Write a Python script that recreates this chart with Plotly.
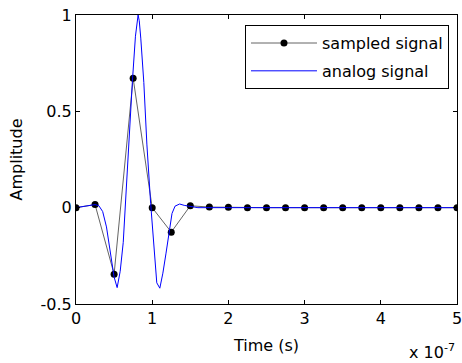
import plotly.graph_objects as go

# Data (time in units of 1e-7 s, as labelled on the axis)
sampled_t = [0, 0.25, 0.5, 0.75, 1.0, 1.25, 1.5, 1.75, 2.0, 2.25, 2.5, 2.75,
             3.0, 3.25, 3.5, 3.75, 4.0, 4.25, 4.5, 4.75, 5.0]
sampled_v = [0, 0.016, -0.345, 0.672, 0, -0.127, 0.01, 0.003, 0.002, 0, 0, 0,
             0, 0, 0, 0, 0, 0, 0, 0, 0]

analog_t = [0, 0.1, 0.2, 0.25, 0.3, 0.35, 0.4, 0.45, 0.5, 0.54, 0.58, 0.62,
            0.66, 0.70, 0.74, 0.78, 0.80, 0.815, 0.83, 0.85, 0.89, 0.93, 0.98,
            1.02, 1.06, 1.10, 1.14, 1.18, 1.23, 1.26, 1.30, 1.36, 1.42, 1.50,
            1.60, 2.0, 3.0, 4.0, 5.0]
analog_v = [0, 0.005, 0.012, 0.016, 0.01, -0.02, -0.1, -0.24, -0.36, -0.415,
            -0.33, -0.18, 0.12, 0.41, 0.655, 0.89, 0.97, 1.0, 0.97, 0.88, 0.65,
            0.33, 0.02, -0.2, -0.39, -0.418, -0.34, -0.24, -0.11, -0.03, 0.008,
            0.019, 0.012, 0.005, 0, 0, 0, 0, 0]

x_ticks = [0, 1, 2, 3, 4, 5]
x_tick_labels = ["0", "1", "2", "3", "4", "5"]
y_ticks = [-0.5, 0, 0.5, 1]
y_tick_labels = ["-0.5", "0", "0.5", "1"]

FONT = "DejaVu Sans"
FS = 16

fig = go.Figure()
fig.add_trace(go.Scatter(
    x=sampled_t, y=sampled_v, name="sampled signal", legendgroup="a",
    mode="lines+markers",
    line=dict(color="rgb(100,100,100)", width=1),
    marker=dict(color="black", size=7),
))
fig.add_trace(go.Scatter(
    x=analog_t, y=analog_v, name="analog signal", legendgroup="b",
    mode="lines",
    line=dict(color="rgb(0,0,255)", width=1),
))

axis_common = dict(
    showgrid=False, zeroline=False, showline=True, linecolor="black",
    linewidth=1, mirror="ticks", ticks="inside", ticklen=4, tickcolor="black",
    tickfont=dict(family=FONT, size=FS, color="black"),
    ticklabeloverflow="allow", automargin=False,
)

fig.update_layout(
    width=462, height=363,
    margin=dict(l=76, r=5, t=15, b=59),
    paper_bgcolor="white", plot_bgcolor="white",
    font=dict(family=FONT, size=FS, color="black"),
    showlegend=True,
    legend=dict(
        x=0.979, y=0.965, xanchor="right", yanchor="top",
        bordercolor="black", borderwidth=1, bgcolor="white",
        font=dict(family=FONT, size=FS, color="black"),
        itemwidth=66, traceorder="grouped", tracegroupgap=4,
    ),
    xaxis=dict(
        range=[0, 5],
        tickvals=x_ticks, ticktext=x_tick_labels,
        title=dict(text="Time (s)", font=dict(family=FONT, size=FS), standoff=12),
        **axis_common,
    ),
    yaxis=dict(
        range=[-0.5, 1],
        tickvals=y_ticks, ticktext=y_tick_labels,
        title=dict(text="Amplitude", font=dict(family=FONT, size=FS), standoff=13),
        **axis_common,
    ),
    annotations=[dict(
        text="x 10<sup>-7</sup>", xref="paper", yref="paper", x=1.0, y=0,
        xanchor="right", yanchor="top", yshift=-35, showarrow=False,
        font=dict(family=FONT, size=FS, color="black"),
    )],
)

fig.write_html("out.html")
